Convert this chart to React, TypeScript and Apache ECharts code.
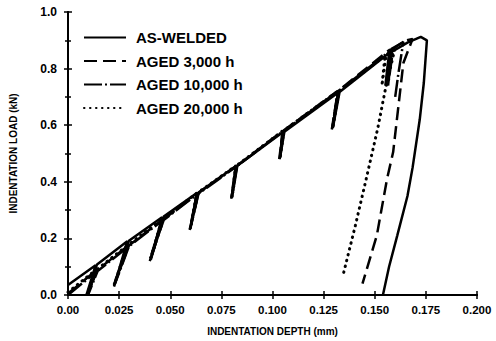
import React, { useEffect, useRef } from "react";
import * as echarts from "echarts";

const xTickLabels = ["0.00", "0.025", "0.050", "0.075", "0.100", "0.125", "0.150", "0.175", "0.200"];
const yTickLabels = ["0.0", "0.2", "0.4", "0.6", "0.8", "1.0"];
const seriesNames = ["AS-WELDED", "AGED 3,000 h", "AGED 10,000 h", "AGED 20,000 h"];

// [depth (mm), load (kN)]
const asWelded: [number, number][] = [
  [0, 0.035], [0.0135, 0.105], [0.009, 0.0], [0.0142, 0.108], [0.029, 0.19], [0.0225, 0.03], [0.0298, 0.192],
  [0.046, 0.275], [0.0405, 0.125], [0.0468, 0.277], [0.063, 0.36], [0.0598, 0.235], [0.0638, 0.362],
  [0.082, 0.455], [0.0802, 0.345], [0.0828, 0.457], [0.105, 0.575], [0.1037, 0.485], [0.1058, 0.577],
  [0.132, 0.715], [0.1295, 0.59], [0.1328, 0.717], [0.157, 0.855], [0.1552, 0.74], [0.1578, 0.857],
  [0.166, 0.892], [0.1725, 0.912], [0.1755, 0.9], [0.174, 0.75], [0.172, 0.62], [0.1685, 0.45],
  [0.166, 0.35], [0.161, 0.21], [0.157, 0.1], [0.154, 0.0],
];
const aged3000: [number, number][] = [
  [0, 0.005], [0.0135, 0.085], [0.0095, 0.0], [0.0143, 0.088], [0.029, 0.172], [0.0222, 0.03], [0.0298, 0.175],
  [0.046, 0.265], [0.04, 0.12], [0.0468, 0.268], [0.063, 0.357], [0.0595, 0.23], [0.0638, 0.36],
  [0.082, 0.455], [0.0798, 0.34], [0.0826, 0.457], [0.105, 0.58], [0.1033, 0.48], [0.1056, 0.582],
  [0.132, 0.722], [0.129, 0.585], [0.1326, 0.724], [0.1575, 0.868], [0.1555, 0.74], [0.1582, 0.87],
  [0.1655, 0.9], [0.1685, 0.905], [0.164, 0.82], [0.159, 0.505], [0.156, 0.41], [0.151, 0.21], [0.144, 0.04],
];
const aged10000: [number, number][] = [
  [0, 0.0], [0.0135, 0.08], [0.0098, 0.0], [0.0145, 0.085], [0.029, 0.168], [0.023, 0.04], [0.0298, 0.172],
  [0.046, 0.262], [0.0402, 0.13], [0.0468, 0.265], [0.063, 0.355], [0.06, 0.24], [0.0638, 0.358],
  [0.082, 0.452], [0.08, 0.345], [0.0826, 0.455], [0.105, 0.578], [0.1035, 0.48], [0.1056, 0.58],
  [0.132, 0.72], [0.1292, 0.59], [0.1326, 0.722], [0.1585, 0.868], [0.1565, 0.74], [0.159, 0.87],
  [0.164, 0.895], [0.1615, 0.78], [0.16, 0.7],
];
const aged20000: [number, number][] = [
  [0, 0.01], [0.0135, 0.088], [0.0093, 0.0], [0.0141, 0.09], [0.029, 0.175], [0.0225, 0.035], [0.0296, 0.178],
  [0.046, 0.268], [0.0405, 0.13], [0.0466, 0.27], [0.063, 0.36], [0.0598, 0.235], [0.0636, 0.362],
  [0.082, 0.456], [0.0802, 0.345], [0.0826, 0.458], [0.105, 0.58], [0.1037, 0.485], [0.1056, 0.582],
  [0.132, 0.72], [0.1295, 0.59], [0.1326, 0.722], [0.155, 0.845], [0.1535, 0.74], [0.1556, 0.848],
  [0.16, 0.875], [0.155, 0.72], [0.1515, 0.59], [0.1455, 0.4], [0.1405, 0.245], [0.1345, 0.07],
];

const seriesData = [asWelded, aged3000, aged10000, aged20000];
const dashTypes: any[] = ["solid", [13, 6], [18, 3, 2, 3], [0.5, 5.5]];

const FONT = "Liberation Sans, Arial, sans-serif";

export default function App() {
  const ref = useRef<HTMLDivElement>(null);
  useEffect(() => {
    if (!ref.current) return;
    const chart = echarts.init(ref.current, undefined, { renderer: "svg" });
    const axisCommon = {
      axisLine: { show: true, lineStyle: { color: "#000", width: 2 } },
      splitLine: { show: false },
    };
    const tick = { show: true, inside: true, length: 4, lineStyle: { color: "#000", width: 1.5 } };
    const minor = { show: true, splitNumber: 2, length: 3, lineStyle: { color: "#000", width: 1.5 } };
    chart.setOption({
      animation: false,
      backgroundColor: "#fff",
      grid: { left: 68, right: 19, top: 12, bottom: 44 },
      legend: {
        orient: "vertical",
        left: 83,
        top: 30,
        padding: 0,
        itemWidth: 42,
        itemHeight: 14,
        itemGap: 8.5,
        data: seriesNames,
        itemStyle: { opacity: 0, borderWidth: 0 },
        textStyle: { fontFamily: FONT, fontWeight: "bold", fontSize: 15, color: "#000", padding: [0, 0, 0, 5] },
      },
      xAxis: [
        {
          type: "value",
          min: 0,
          max: 0.2,
          interval: 0.025,
          name: "INDENTATION DEPTH (mm)",
          nameLocation: "middle",
          nameGap: 31,
          nameTextStyle: { fontFamily: FONT, fontWeight: "bold", fontSize: 10, color: "#000" },
          ...axisCommon,
          axisTick: tick,
          axisLabel: {
            fontFamily: FONT,
            fontWeight: "bold",
            fontSize: 11.5,
            color: "#000",
            margin: 9,
            formatter: (v: number) => xTickLabels[Math.round(v / 0.025)] ?? "",
          },
        },
        {
          type: "value",
          position: "top",
          min: 0,
          max: 0.2,
          interval: 0.025,
          ...axisCommon,
          axisTick: tick,
          axisLabel: { show: false },
        },
      ],
      yAxis: [
        {
          type: "value",
          min: 0,
          max: 1,
          interval: 0.2,
          name: "INDENTATION LOAD (kN)",
          nameLocation: "middle",
          nameGap: 50,
          nameTextStyle: { fontFamily: FONT, fontWeight: "bold", fontSize: 10, color: "#000" },
          ...axisCommon,
          axisTick: tick,
          minorTick: minor,
          axisLabel: {
            fontFamily: FONT,
            fontWeight: "bold",
            fontSize: 12,
            color: "#000",
            margin: 11,
            formatter: (v: number) => yTickLabels[Math.round(v / 0.2)] ?? "",
          },
        },
        {
          type: "value",
          position: "right",
          min: 0,
          max: 1,
          interval: 0.2,
          ...axisCommon,
          axisTick: tick,
          minorTick: minor,
          axisLabel: { show: false },
        },
      ],
      series: seriesNames.map((name, i) => ({
        name,
        type: "line",
        data: seriesData[i],
        showSymbol: false,
        symbol: "none",
        color: "#000",
        lineStyle: { color: "#000", width: i === 3 ? 3 : 2.5, type: dashTypes[i], cap: i === 3 ? "round" : "butt" },
        z: 10 - i,
      })),
    });
    return () => chart.dispose();
  }, []);
  return <div ref={ref} style={{ position: "fixed", left: 0, top: 0, width: 496, height: 341 }} />;
}
